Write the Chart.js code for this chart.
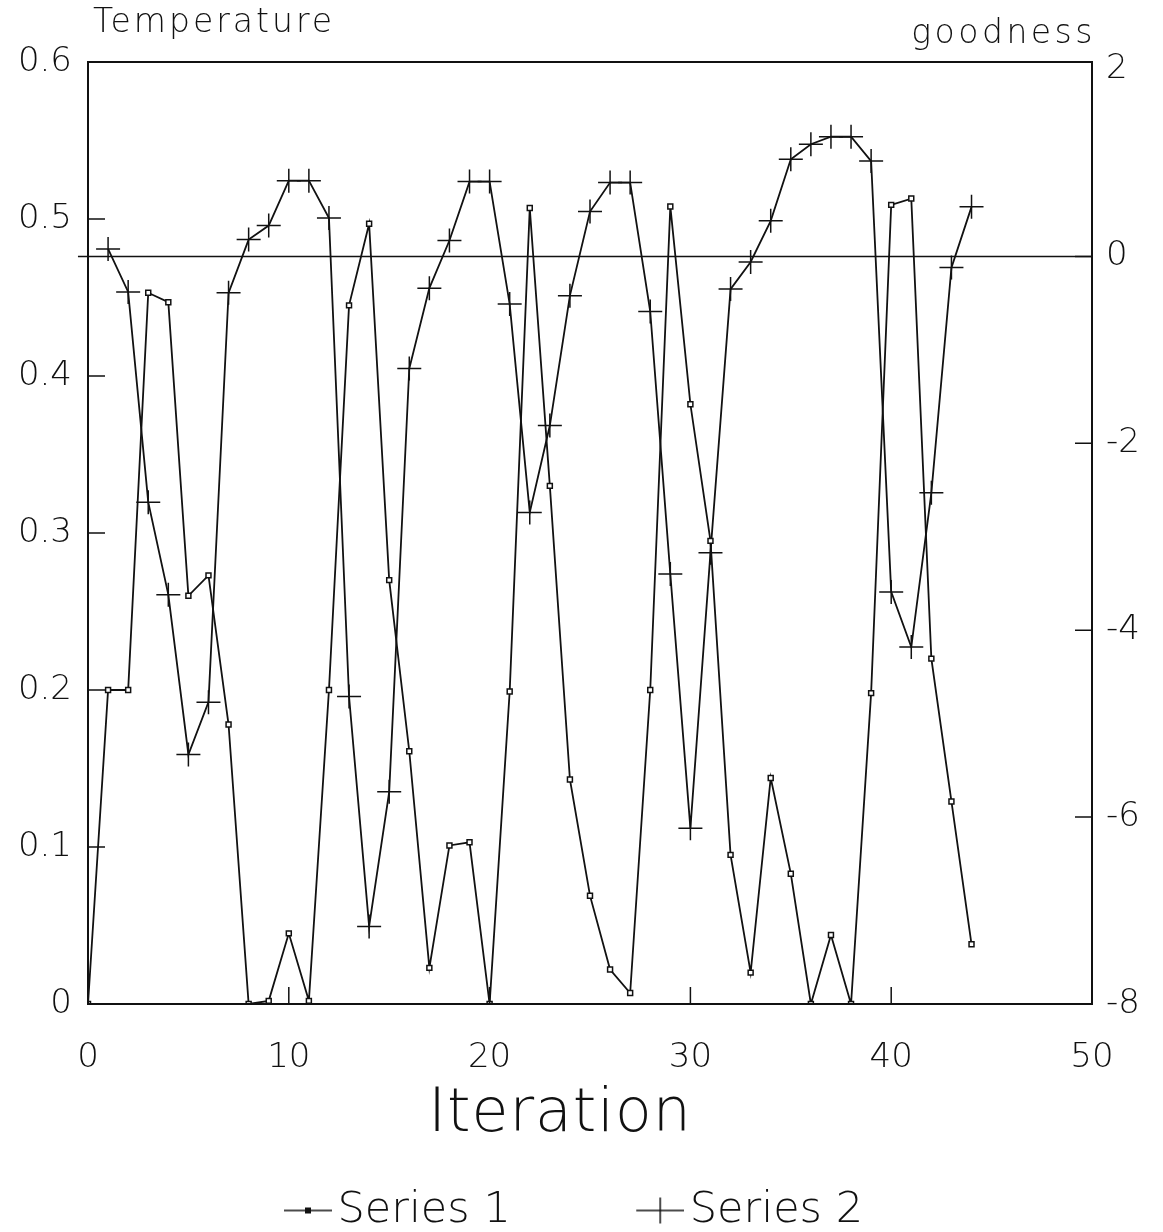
<html>
<head>
<meta charset="utf-8">
<script src="https://cdn.jsdelivr.net/npm/chart.js@4.4.1/dist/chart.umd.min.js"></script>
<style>
  html, body { margin: 0; padding: 0; background: #fff; }
</style>
</head>
<body>
<canvas id="chart" width="1163" height="1232"></canvas>
<script>
// data
const iterations = [0, 1, 2, 3, 4, 5, 6, 7, 8, 9, 10, 11, 12, 13, 14, 15, 16, 17, 18, 19, 20, 21, 22,
    23, 24, 25, 26, 27, 28, 29, 30, 31, 32, 33, 34, 35, 36, 37, 38, 39, 40, 41, 42, 43, 44];
const temperature = [0, 0.2, 0.2, 0.453, 0.447, 0.26, 0.273, 0.178, 0, 0.002, 0.045, 0.002, 0.2, 0.445,
    0.497, 0.27, 0.161, 0.023, 0.101, 0.103, 0, 0.199, 0.507, 0.33, 0.143, 0.069, 0.022, 0.007, 0.2,
    0.508, 0.382, 0.295, 0.095, 0.02, 0.144, 0.083, 0, 0.044, 0, 0.198, 0.509, 0.513, 0.22, 0.129, 0.038];
const goodness = [null, 0.08, -0.38, -2.63, -3.62, -5.33, -4.77, -0.39, 0.18, 0.33, 0.81, 0.81, 0.41,
    -4.71, -7.17, -5.73, -1.2, -0.34, 0.17, 0.8, 0.8, -0.51, -2.74, -1.81, -0.42, 0.48, 0.79, 0.79,
    -0.59, -3.4, -6.12, -3.17, -0.35, -0.06, 0.38, 1.04, 1.2, 1.28, 1.28, 1.02, -3.59, -4.18, -2.53,
    -0.12, 0.53];
const zeroLineX = [-0.5, 50];
const xTicks = [0, 10, 20, 30, 40, 50];
const leftTicks = [0, 0.1, 0.2, 0.3, 0.4, 0.5, 0.6];
const rightTicks = [-8, -6, -4, -2, 0, 2];

const FONT = "'DejaVu Sans', 'Liberation Sans', sans-serif";
const INK = '#111';

// legend icons: a short line with the series marker on it, pushed to the right end of the image
function makeIcon(kind) {
    const c = document.createElement('canvas');
    c.width = 92; c.height = 30;
    const g = c.getContext('2d');
    g.strokeStyle = INK; g.lineWidth = 1.5;
    g.beginPath(); g.moveTo(44, 15); g.lineTo(92, 15); g.stroke();
    if (kind === 'rect') {
        g.fillStyle = INK;
        g.fillRect(65, 12, 6, 6);
    } else if (kind === 'cross') {
        g.beginPath(); g.moveTo(68, 2); g.lineTo(68, 28); g.stroke();
    }
    return c;
}
const blank = document.createElement('canvas');
blank.width = 1; blank.height = 1;

function fixTicks(values) {
    return scale => { scale.ticks = values.map(v => ({value: v})); };
}

// frame, inward tick marks and the axis names
const decor = {
    id: 'decor',
    afterDraw(chart) {
        const {ctx, chartArea: a, scales} = chart;
        ctx.save();
        ctx.strokeStyle = INK;
        ctx.lineWidth = 2;
        ctx.strokeRect(a.left, a.top, a.right - a.left, a.bottom - a.top);
        ctx.lineWidth = 1.5;
        ctx.beginPath();
        leftTicks.slice(1, -1).forEach(v => {
            const py = scales.y.getPixelForValue(v);
            ctx.moveTo(a.left, py); ctx.lineTo(a.left + 17, py);
        });
        rightTicks.slice(1, -1).forEach(v => {
            const py = scales.y2.getPixelForValue(v);
            ctx.moveTo(a.right, py); ctx.lineTo(a.right - 17, py);
        });
        xTicks.slice(1, -1).forEach(v => {
            const px = scales.x.getPixelForValue(v);
            ctx.moveTo(px, a.bottom); ctx.lineTo(px, a.bottom - 17);
        });
        ctx.stroke();
        ctx.fillStyle = INK;
        ctx.font = '200 33px ' + FONT;
        ctx.letterSpacing = '3px';
        ctx.textBaseline = 'alphabetic';
        ctx.textAlign = 'left';
        ctx.fillText('Temperature', 93, 32);
        ctx.textAlign = 'right';
        ctx.letterSpacing = '3.5px';
        ctx.fillText('goodness', 1096, 43);
        ctx.letterSpacing = '1px';
        ctx.font = '200 60px ' + FONT;
        ctx.textAlign = 'center';
        ctx.textBaseline = 'middle';
        ctx.fillText('Iteration', 560, 1115);
        ctx.restore();
    }
};

const tickFont = {family: FONT, size: 34, weight: 200};

new Chart(document.getElementById('chart'), {
    type: 'line',
    data: {
        datasets: [{
            label: 'Series 1',
            data: iterations.map((x, i) => ({x: x, y: temperature[i]})),
            yAxisID: 'y',
            borderColor: INK,
            borderWidth: 1.8,
            pointStyle: 'rect',
            pointRadius: 3.5,
            pointBackgroundColor: '#fff',
            pointBorderColor: INK,
            pointBorderWidth: 1.5,
            tension: 0
        }, {
            label: 'Series 2',
            data: iterations.map((x, i) => ({x: x, y: goodness[i]})),
            yAxisID: 'y2',
            borderColor: INK,
            borderWidth: 1.8,
            pointStyle: 'cross',
            pointRadius: 12,
            pointBorderColor: INK,
            pointBorderWidth: 1.5,
            tension: 0
        }, {
            label: 'zero',
            data: zeroLineX.map(x => ({x: x, y: 0})),
            yAxisID: 'y2',
            borderColor: INK,
            borderWidth: 1.5,
            pointRadius: 0,
            clip: false
        }]
    },
    options: {
        responsive: false,
        animation: false,
        // negative left padding only moves the centred legend a little to the left
        layout: {padding: {top: 62, left: -44, right: 0, bottom: -10}},
        plugins: {
            tooltip: {enabled: false},
            legend: {
                position: 'bottom',
                labels: {
                    usePointStyle: true,
                    pointStyleWidth: 60,
                    padding: 8,
                    color: INK,
                    font: {family: FONT, size: 43, weight: 200},
                    generateLabels: () => [
                        {text: 'Series 1', pointStyle: makeIcon('rect'), fontColor: INK, lineWidth: 0, hidden: false, datasetIndex: 0},
                        {text: '', pointStyle: blank, fontColor: INK, lineWidth: 0, hidden: false},
                        {text: 'Series 2', pointStyle: makeIcon('cross'), fontColor: INK, lineWidth: 0, hidden: false, datasetIndex: 1}
                    ]
                }
            }
        },
        scales: {
            x: {
                type: 'linear',
                min: 0, max: 50,
                afterBuildTicks: fixTicks(xTicks),
                afterFit: s => { s.height = 177; },
                grid: {display: false, drawTicks: false},
                border: {display: false},
                ticks: {color: INK, font: tickFont, padding: 34, maxRotation: 0}
            },
            y: {
                position: 'left',
                min: 0, max: 0.6,
                afterBuildTicks: fixTicks(leftTicks),
                afterFit: s => { s.width = 132; },
                grid: {display: false, drawTicks: false},
                border: {display: false},
                ticks: {color: INK, font: tickFont, padding: 16}
            },
            y2: {
                position: 'right',
                min: -8, max: 2.08,
                afterBuildTicks: fixTicks(rightTicks),
                afterFit: s => { s.width = 71; },
                grid: {display: false, drawTicks: false},
                border: {display: false},
                ticks: {color: INK, font: tickFont, padding: 14}
            }
        }
    },
    plugins: [decor]
});
</script>
</body>
</html>
